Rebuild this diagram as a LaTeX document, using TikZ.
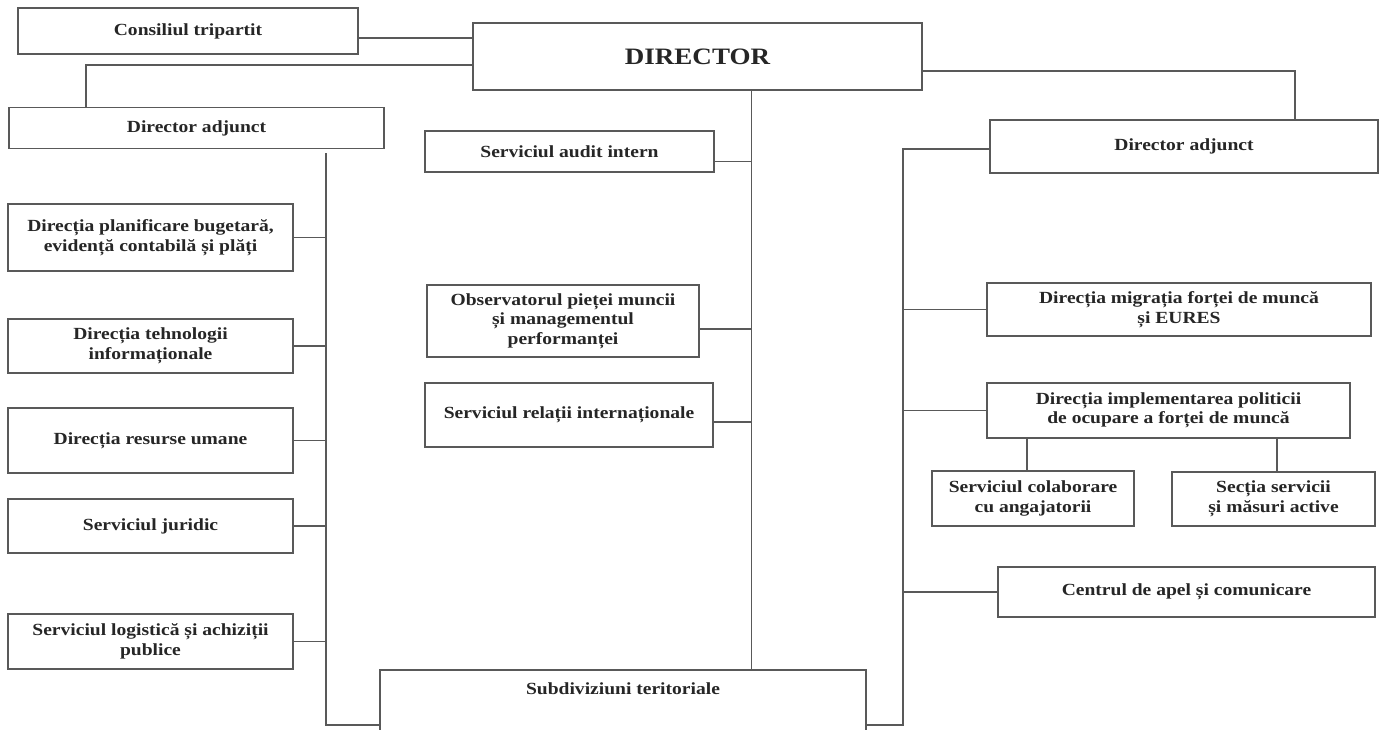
\documentclass[tikz,border=0pt]{standalone}
\usepackage{fontspec}
\setmainfont{Liberation Serif}[FakeStretch=1.15]
\begin{document}
\begin{tikzpicture}[x=1pt,y=-1pt,
  box/.style={draw=black!65, line width=1.5pt, fill=white, inner sep=0pt, align=center,
    font=\fontsize{17}{19.5}\selectfont\bfseries, text=black!85},
  conn/.style={draw=black!65, line width=1.5pt}]
\useasboundingbox (0,0) rectangle (1391,729);
% top
\node[box, minimum width=340, minimum height=46] (cons) at (188,31) {Consiliul tripartit};
\node[box, minimum width=449, minimum height=67, font=\fontsize{23.5}{26}\selectfont\bfseries] (dir) at (697.5,56.5) {DIRECTOR};
\node[box, minimum width=375, minimum height=41] (dal) at (196.5,128) {Director adjunct};
\node[box, minimum width=388, minimum height=53] (dar) at (1184,146.5) {Director adjunct};
% left column
\node[box, minimum width=285, minimum height=67] (p1) at (150.5,237.5) {Direcția planificare bugetară,\\evidență contabilă și plăți};
\node[box, minimum width=285, minimum height=54] (p2) at (150.5,346) {Direcția tehnologii\\informaționale};
\node[box, minimum width=285, minimum height=65] (p3) at (150.5,440.5) {Direcția resurse umane};
\node[box, minimum width=285, minimum height=54] (p4) at (150.5,526) {Serviciul juridic};
\node[box, minimum width=285, minimum height=55] (p5) at (150.5,641.5) {Serviciul logistică  și achiziții\\publice};
% middle column
\node[box, minimum width=289, minimum height=41] (m1) at (569.5,151.5) {Serviciul audit intern};
\node[box, minimum width=272, minimum height=72] (m2) at (563,321) {Observatorul pieței muncii\\și managementul\\performanței};
\node[box, minimum width=288, minimum height=64] (m3) at (569,415) {Serviciul relații internaționale};
\node[box, minimum width=486, minimum height=80, anchor=north] (sub) at (623,669) {};
\node[inner sep=0pt, anchor=north, font=\fontsize{17}{19.5}\selectfont\bfseries, text=black!85] (subt) at ([yshift=-13pt]sub.north) {Subdiviziuni teritoriale};
% right column
\node[box, minimum width=384, minimum height=53] (r1) at (1179,309.5) {Direcția migrația  forței de muncă\\și EURES};
\node[box, minimum width=363, minimum height=55] (r2) at (1168.5,410.5) {Direcția implementarea politicii\\de ocupare a forței de muncă};
\node[box, minimum width=202, minimum height=55] (r3) at (1033,498.5) {Serviciul colaborare\\cu angajatorii};
\node[box, minimum width=203, minimum height=54] (r4) at (1273.5,499) {Secția servicii\\și măsuri active};
\node[box, minimum width=377, minimum height=50] (r5) at (1186.5,592) {Centrul de apel și comunicare};
% trunk coordinates
\coordinate (ctrunk) at (751.5,90);
\coordinate (ltop) at (326,153);
\coordinate (lbot) at (326,725);
\coordinate (rtop) at (903,149);
\coordinate (rbot) at (903,725);
% top connectors
\draw[conn] ([yshift=-7pt]cons.east) -- ([yshift=-7pt]cons.east -| dir.west);
\draw[conn] ([yshift=-8.5pt]dir.west) -| ([xshift=-110.5pt]dal.north);
\draw[conn] ([yshift=-14.5pt]dir.east) -| ([xshift=111pt]dar.north);
\draw[conn] (ctrunk) -- (ctrunk |- sub.north);
% middle branches
\draw[conn] ([yshift=-10pt]m1.east) -- ([yshift=-10pt]m1.east -| ctrunk);
\draw[conn] ([yshift=-8pt]m2.east) -- ([yshift=-8pt]m2.east -| ctrunk);
\draw[conn] ([yshift=-7pt]m3.east) -- ([yshift=-7pt]m3.east -| ctrunk);
% left trunk
\draw[conn] (ltop) -- (lbot) -- (lbot -| sub.west);
\draw[conn] (p1.east) -- (p1.east -| ltop);
\draw[conn] (p2.east) -- (p2.east -| ltop);
\draw[conn] (p3.east) -- (p3.east -| ltop);
\draw[conn] (p4.east) -- (p4.east -| ltop);
\draw[conn] (p5.east) -- (p5.east -| ltop);
% right trunk
\draw[conn] (dar.west |- rtop) -- (rtop) -- (rbot) -- (rbot -| sub.east);
\draw[conn] (r1.west) -- (r1.west -| rtop);
\draw[conn] (r2.west) -- (r2.west -| rtop);
\draw[conn] (r5.west) -- (r5.west -| rtop);
\draw[conn] ([xshift=-141.5pt]r2.south) -- ([xshift=-141.5pt]r2.south |- r3.north);
\draw[conn] ([xshift=108.5pt]r2.south) -- ([xshift=108.5pt]r2.south |- r4.north);
\end{tikzpicture}
\end{document}
